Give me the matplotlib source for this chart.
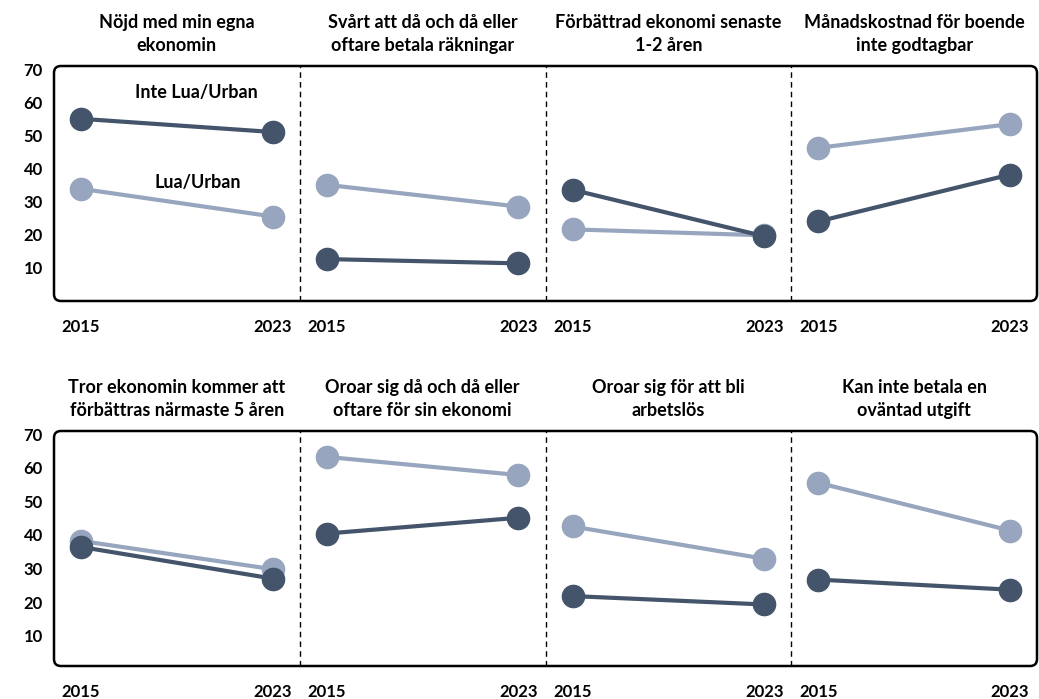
import matplotlib.pyplot as plt
from matplotlib.patches import FancyBboxPatch

plt.rcParams['font.family'] = ['Lato', 'DejaVu Sans']
plt.rcParams['font.weight'] = 'bold'

years = ['2015', '2023']

titles_top = ['Nöjd med min egna\nekonomin',
              'Svårt att då och då eller\noftare betala räkningar',
              'Förbättrad ekonomi senaste\n1-2 åren',
              'Månadskostnad för boende\ninte godtagbar']
titles_bottom = ['Tror ekonomin kommer att\nförbättras närmaste 5 åren',
                 'Oroar sig då och då eller\noftare för sin ekonomi',
                 'Oroar sig för att bli\narbetslös',
                 'Kan inte betala en\noväntad utgift']

# (2015, 2023) per panel
lua_top = [(34.0, 25.6), (35.2, 28.6), (21.7, 19.9), (46.4, 53.6)]
inte_top = [(55.2, 51.2), (12.7, 11.4), (33.7, 19.6), (24.1, 38.3)]
lua_bottom = [(38.2, 29.8), (63.2, 57.8), (42.5, 32.9), (55.5, 41.3)]
inte_bottom = [(36.4, 27.0), (40.4, 45.1), (21.8, 19.3), (26.7, 23.7)]

yticks = [10, 20, 30, 40, 50, 60, 70]

dark = '#44546A'
light = '#97A6BE'

fig = plt.figure(figsize=(10.39, 6.99), dpi=100)


def draw_row(rect, titles, lua, inte, ylim, labels=False):
    ax = fig.add_axes(rect)
    ax.set_xlim(0, 4)
    ax.set_ylim(*ylim)
    for s in ax.spines.values():
        s.set_visible(False)
    # ram med rundade hörn
    aspect = (rect[2] * 1039) / (rect[3] * 699)
    box = FancyBboxPatch((0, 0), 1, 1, boxstyle='round,pad=0,rounding_size=0.007',
                         transform=ax.transAxes, fill=False, edgecolor='black',
                         linewidth=1.8, clip_on=False, mutation_aspect=aspect)
    ax.add_patch(box)
    for i in range(1, 4):
        ax.axvline(i, color='black', linestyle=(0, (4, 3)), linewidth=1)

    xs = []
    for i in range(4):
        x = [i + 0.11, i + 0.89]
        xs += x
        ax.plot(x, lua[i], color=light, linewidth=3, marker='o', markersize=16,
                solid_capstyle='round', zorder=3)
        ax.plot(x, inte[i], color=dark, linewidth=3, marker='o', markersize=16,
                solid_capstyle='round', zorder=4)
        ax.text(i + 0.5, 1.05, titles[i], transform=ax.get_xaxis_transform(),
                ha='center', va='bottom', fontsize=13, fontweight='bold',
                linespacing=1.45)

    ax.set_xticks(xs)
    ax.set_xticklabels(years * 4)
    ax.set_yticks(yticks)
    ax.tick_params(length=0, labelsize=12, pad=8)
    ax.tick_params(axis='x', pad=13)

    if labels:
        ax.text(0.58, 63.3, 'Inte Lua/Urban', ha='center', va='center',
                fontsize=13, fontweight='bold')
        ax.text(0.585, 36.0, 'Lua/Urban', ha='center', va='center',
                fontsize=13, fontweight='bold')
    return ax


draw_row([54 / 1039, 1 - 301 / 699, 983 / 1039, 235 / 699],
         titles_top, lua_top, inte_top, (0, 71.2), labels=True)
draw_row([54 / 1039, 1 - 666 / 699, 983 / 1039, 235 / 699],
         titles_bottom, lua_bottom, inte_bottom, (1, 70.9))

fig.savefig('out.png', dpi=100)
